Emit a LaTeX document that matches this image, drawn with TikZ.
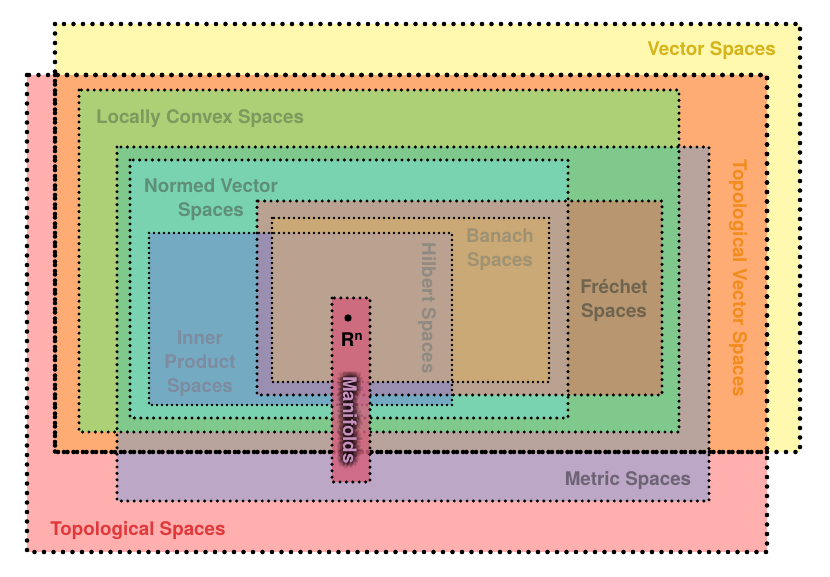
\documentclass[tikz,border=0pt]{standalone}
\usepackage{fontspec}
\setmainfont{TeX Gyre Heros}
\definecolor{yellowF}{HTML}{FFF9AF}
\definecolor{pinkF}{HTML}{FFAFAE}
\definecolor{orangeF}{HTML}{FFAB74}
\definecolor{lilacF}{HTML}{BCA7C6}
\definecolor{metbrF}{HTML}{B8A49C}
\definecolor{greenF}{HTML}{ADD077}
\definecolor{lcsmetF}{HTML}{7FC98C}
\definecolor{normF}{HTML}{7AD3B0}
\definecolor{frF}{HTML}{B8966F}
\definecolor{frnF}{HTML}{B9A290}
\definecolor{banF}{HTML}{CBA977}
\definecolor{innF}{HTML}{74ABC3}
\definecolor{inpurF}{HTML}{9A8FB1}
\definecolor{hilF}{HTML}{BBA18F}
\definecolor{rnF}{HTML}{D2607C}
\definecolor{vecT}{HTML}{D4B41A}
\definecolor{tvsT}{HTML}{F28C1C}
\definecolor{lcsT}{HTML}{7B9B5E}
\definecolor{normT}{HTML}{5E8F78}
\definecolor{banT}{HTML}{9E9272}
\definecolor{frT}{HTML}{6E6450}
\definecolor{hilT}{HTML}{8F8A82}
\definecolor{innT}{HTML}{7E8CA0}
\definecolor{metT}{HTML}{6E6275}
\definecolor{topT}{HTML}{E0393C}
\definecolor{manT}{HTML}{C890BE}
\tikzset{
  bigdots/.style={line width=4.6pt, line cap=round, dash pattern=on 0pt off 9.5pt},
  middots/.style={line width=3.4pt, line cap=round, dash pattern=on 0pt off 6.4pt},
  smalldots/.style={line width=2.7pt, line cap=round, dash pattern=on 0pt off 5pt},
  lbl/.style={font=\fontsize{18.8}{24}\selectfont\bfseries, inner sep=0pt, align=center},
}
\begin{document}
\begin{tikzpicture}[x=1pt,y=-1pt]
\useasboundingbox (0,0) rectangle (830,577);
% fills
\fill[yellowF] (55,24) rectangle (800,452);
\fill[pinkF] (27,75) rectangle (767,552);
\fill[orangeF] (55,75) rectangle (767,452);
\fill[lilacF] (117,147) rectangle (709,501);
\fill[metbrF] (117,147) rectangle (709,452);
\fill[greenF] (79,90) rectangle (679,432);
\fill[lcsmetF] (117,147) rectangle (679,432);
\fill[normF] (130,160) rectangle (568,418);
\fill[frF] (257,201) rectangle (662,395);
\fill[frnF] (257,201) rectangle (568,395);
\fill[banF] (272,218) rectangle (549,382);
\fill[innF] (149,233) rectangle (452,405);
\fill[inpurF] (257,233) rectangle (452,395);
\fill[hilF] (272,233) rectangle (452,382);
% borders
\draw[bigdots] (55,24) rectangle (800,452);
\draw[bigdots] (27,75) rectangle (767,552);
\draw[bigdots] (55,75) rectangle (767,452);
\draw[middots] (79,90) rectangle (679,432);
\draw[middots] (117,147) rectangle (709,501);
\draw[middots] (130,160) rectangle (568,418);
\draw[middots] (257,201) rectangle (662,395);
\draw[smalldots] (272,218) rectangle (549,382);
\draw[smalldots] (149,233) rectangle (452,405);
% R^n / manifolds box
\fill[rnF, opacity=0.82] (332,298) rectangle (370,482);
\draw[middots] (332,298) rectangle (370,482);
\fill (348,318) circle (3.7pt);
\node[lbl, text=black] (rn) at (352,340) {R\textsuperscript{n}};
\foreach \r in {1.5,3,4.5,6}{
  \foreach \a in {0,45,...,315}{
    \path (350,420) ++(\a:\r pt) node[lbl, rotate=-90, text=black, opacity=0.11] {Manifolds};
  }
}
\node[lbl, rotate=-90, text=manT] (mani) at (350,420) {Manifolds};
% labels
\node[lbl, text=vecT, anchor=east] (vec) at (776,51) {Vector Spaces};
\node[lbl, text=tvsT, rotate=-90] (tvs) at (738,278) {Topological Vector Spaces};
\node[lbl, text=lcsT] (lcs) at (200,119) {Locally Convex Spaces};
\node[lbl, text=normT] (norm) at (211,200) {Normed Vector\\Spaces};
\node[lbl, text=banT] (ban) at (500,250) {Banach\\Spaces};
\node[lbl, text=frT] (fr) at (614,300) {Fréchet\\Spaces};
\node[lbl, text=hilT, rotate=-90] (hil) at (427,308) {Hilbert Spaces};
\node[lbl, text=innT] (inn) at (200,364) {Inner\\Product\\Spaces};
\node[lbl, text=metT] (met) at (628,481) {Metric Spaces};
\node[lbl, text=topT] (top) at (138,531) {Topological Spaces};
\end{tikzpicture}
\end{document}
